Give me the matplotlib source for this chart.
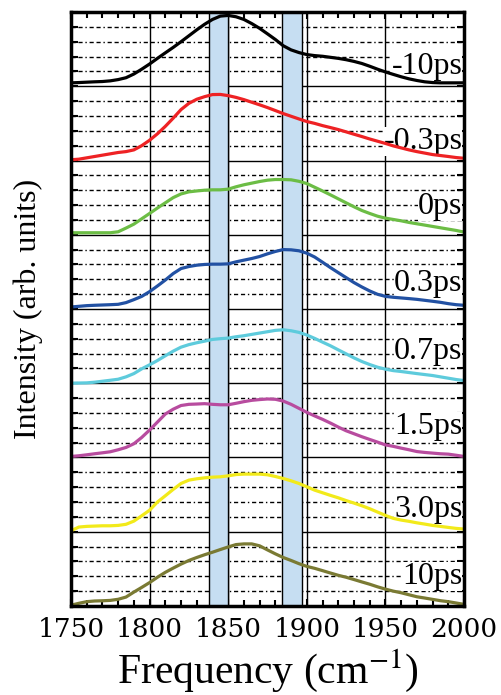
import numpy as np
import matplotlib.pyplot as plt
from matplotlib.ticker import MultipleLocator

plt.rcParams['font.family'] = ['Liberation Serif', 'DejaVu Serif']
plt.rcParams['mathtext.fontset'] = 'stix'

freq = [1750, 1755, 1760, 1765, 1770, 1775, 1780, 1785, 1790, 1795,
        1800, 1805, 1810, 1815, 1820, 1825, 1830, 1835, 1840, 1845,
        1850, 1855, 1860, 1865, 1870, 1875, 1880, 1885, 1890, 1895,
        1900, 1905, 1910, 1915, 1920, 1925, 1930, 1935, 1940, 1945,
        1950, 1955, 1960, 1965, 1970, 1975, 1980, 1985, 1990, 1995, 2000]

delays = ['-10ps', '-0.3ps', '0ps', '0.3ps', '0.7ps', '1.5ps', '3.0ps', '10ps']

s_m10 = [0.046, 0.050, 0.055, 0.060, 0.064, 0.073, 0.090, 0.115, 0.165, 0.230,
         0.300, 0.376, 0.450, 0.523, 0.600, 0.680, 0.760, 0.835, 0.900, 0.945,
         0.954, 0.936, 0.900, 0.844, 0.780, 0.706, 0.630, 0.546, 0.490, 0.454,
         0.427, 0.413, 0.404, 0.390, 0.376, 0.358, 0.335, 0.307, 0.270, 0.230,
         0.193, 0.160, 0.128, 0.100, 0.078, 0.060, 0.050, 0.046, 0.046, 0.046, 0.046]
s_m03 = [0.010, 0.018, 0.036, 0.054, 0.072, 0.090, 0.108, 0.120, 0.143, 0.200,
         0.273, 0.360, 0.460, 0.570, 0.686, 0.770, 0.825, 0.860, 0.888, 0.890,
         0.874, 0.850, 0.820, 0.785, 0.750, 0.713, 0.673, 0.632, 0.596, 0.560,
         0.525, 0.500, 0.470, 0.444, 0.417, 0.386, 0.354, 0.323, 0.290, 0.260,
         0.230, 0.197, 0.170, 0.143, 0.120, 0.100, 0.080, 0.067, 0.054, 0.040, 0.030]
s_0 = [0.027, 0.027, 0.027, 0.027, 0.027, 0.027, 0.040, 0.090, 0.143, 0.215,
       0.287, 0.360, 0.430, 0.500, 0.550, 0.578, 0.590, 0.600, 0.605, 0.605,
       0.614, 0.646, 0.673, 0.695, 0.717, 0.735, 0.744, 0.744, 0.740, 0.720,
       0.690, 0.640, 0.590, 0.538, 0.484, 0.430, 0.377, 0.327, 0.287, 0.250,
       0.224, 0.206, 0.188, 0.166, 0.148, 0.130, 0.112, 0.094, 0.076, 0.058, 0.036]
s_03 = [0.027, 0.036, 0.045, 0.050, 0.054, 0.058, 0.063, 0.086, 0.126, 0.170,
        0.234, 0.310, 0.390, 0.477, 0.545, 0.572, 0.590, 0.600, 0.604, 0.604,
        0.608, 0.635, 0.658, 0.680, 0.707, 0.743, 0.775, 0.800, 0.797, 0.784,
        0.752, 0.700, 0.630, 0.558, 0.490, 0.423, 0.356, 0.297, 0.243, 0.198,
        0.170, 0.158, 0.149, 0.140, 0.130, 0.117, 0.104, 0.090, 0.072, 0.058, 0.050]
s_07 = [0.000, 0.003, 0.005, 0.014, 0.027, 0.040, 0.054, 0.086, 0.130, 0.194,
        0.248, 0.306, 0.370, 0.432, 0.486, 0.520, 0.545, 0.567, 0.590, 0.600,
        0.608, 0.626, 0.640, 0.658, 0.676, 0.694, 0.712, 0.720, 0.707, 0.685,
        0.650, 0.604, 0.554, 0.505, 0.450, 0.396, 0.342, 0.293, 0.252, 0.216,
        0.190, 0.170, 0.158, 0.144, 0.130, 0.117, 0.104, 0.086, 0.068, 0.050, 0.036]
s_15 = [0.014, 0.023, 0.036, 0.050, 0.063, 0.077, 0.104, 0.135, 0.185, 0.270,
        0.370, 0.477, 0.585, 0.650, 0.700, 0.716, 0.720, 0.725, 0.716, 0.710,
        0.710, 0.730, 0.752, 0.770, 0.780, 0.788, 0.784, 0.760, 0.716, 0.662,
        0.608, 0.560, 0.514, 0.464, 0.410, 0.360, 0.320, 0.280, 0.243, 0.207,
        0.170, 0.150, 0.126, 0.104, 0.080, 0.068, 0.059, 0.050, 0.045, 0.030, 0.014]
s_30 = [0.013, 0.063, 0.072, 0.076, 0.080, 0.080, 0.085, 0.100, 0.143, 0.215,
        0.290, 0.400, 0.484, 0.570, 0.650, 0.695, 0.713, 0.726, 0.735, 0.740,
        0.753, 0.770, 0.776, 0.776, 0.776, 0.767, 0.744, 0.717, 0.686, 0.650,
        0.605, 0.560, 0.525, 0.490, 0.457, 0.420, 0.386, 0.350, 0.310, 0.265,
        0.220, 0.180, 0.157, 0.140, 0.120, 0.103, 0.085, 0.072, 0.058, 0.045, 0.036]
s_10 = [0.010, 0.036, 0.058, 0.067, 0.070, 0.075, 0.090, 0.120, 0.187, 0.250,
        0.315, 0.387, 0.453, 0.510, 0.564, 0.613, 0.653, 0.690, 0.724, 0.760,
        0.795, 0.827, 0.836, 0.836, 0.810, 0.755, 0.702, 0.653, 0.613, 0.570,
        0.533, 0.507, 0.476, 0.444, 0.413, 0.387, 0.356, 0.324, 0.293, 0.258,
        0.227, 0.200, 0.178, 0.151, 0.124, 0.107, 0.089, 0.071, 0.058, 0.040, 0.022]

spectra = [s_m10, s_m03, s_0, s_03, s_07, s_15, s_30, s_10]
colors = ['#000000', '#ee2224', '#6cbd45', '#2251a3', '#5ecbdc', '#b84c9f', '#f2ea1a', '#7a7a33']
label_base = [0.16, 0.155, 0.28, 0.24, 0.32, 0.31, 0.20, 0.29]

bands = [(1838, 1850), (1884, 1897)]

fig = plt.figure(figsize=(5.02, 6.95), dpi=100)
ax = fig.add_axes([0.1414, 0.1281, 0.7829, 0.8546])
n = len(spectra)

for k in range(n):
    for j in range(1, 5):
        ax.axhline(k + 0.2 * j, color='black', lw=1.0, ls=(0, (3, 2, 3, 2, 1, 2)), zorder=1)
    if k > 0:
        ax.axhline(k, color='black', lw=1.0, zorder=1)
for xv in [1800, 1850, 1900, 1950]:
    ax.axvline(xv, color='black', lw=1.0, zorder=1)

for lo, hi in bands:
    ax.axvspan(lo, hi, facecolor='#c6def2', edgecolor='black', lw=1.0, zorder=2)

for i, (spec, col, lab, lb) in enumerate(zip(spectra, colors, delays, label_base)):
    off = n - 1 - i
    ax.plot(freq, np.array(spec) + off, color=col, lw=2.3, zorder=3,
            solid_joinstyle='round', solid_capstyle='round')
    ax.text(1999, off + lb, lab, ha='right', va='baseline', fontsize=23, zorder=2.5,
            bbox=dict(facecolor='white', edgecolor='none', pad=0))

ax.set_xlim(1750, 2000)
ax.set_ylim(0, n)
ax.xaxis.set_major_locator(MultipleLocator(50))
ax.xaxis.set_minor_locator(MultipleLocator(10))
ax.yaxis.set_major_locator(MultipleLocator(0.2))
ax.tick_params(axis='both', which='both', direction='in', top=True, right=True, width=1.5)
ax.tick_params(axis='both', which='major', length=5)
ax.tick_params(axis='x', which='minor', length=4)
ax.tick_params(axis='y', labelleft=False)
ax.tick_params(axis='x', labelsize=19, pad=8)
for t in ax.get_xticklabels():
    t.set_family('DejaVu Serif')
for sp in ax.spines.values():
    sp.set_linewidth(2.5)
    sp.set_zorder(5)

ax.set_xlabel('Frequency (cm$^{-1}$)', fontsize=30, labelpad=4)
ax.set_ylabel('Intensity (arb. units)', fontsize=23, labelpad=20)

fig.savefig('out.png', dpi=100)
